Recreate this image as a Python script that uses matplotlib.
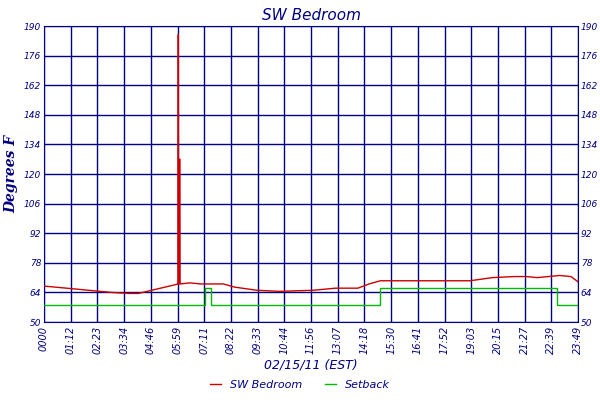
import matplotlib
matplotlib.use("Agg")
import matplotlib.pyplot as plt

tick_labels = ["0000","01:12","02:23","03:34","04:46","05:59","07:11","08:22","09:33","10:44","11:56",
               "13:07","14:18","15:30","16:41","17:52","19:03","20:15","21:27","22:39","23:49"]
temp_h = [0,1,2,3,3.8,4.2,5,5.8,5.98,5.99,6.0,6.03,6.04,6.06,6.07,6.5,7,8,8.5,9.5,10.5,12,13,14,14.5,15,17,19,20,21,21.5,22,23,23.5,23.82]
temp_v = [67,66,65,64,63.5,63.5,65.5,67.5,68,186,68,68,127,127,68,68.5,68,68,66.5,65,64.5,65,66,66,68,69.5,69.5,69.5,71,71.5,71.5,71,72,71.5,69]
set_h = [0,7.18,7.18,7.45,7.45,14.99,14.99,22.88,22.88,23.82]
set_v = [58,58,66,66,58,58,66,66,58,58]

navy = "#000080"
fig = plt.figure(figsize=(6,4), dpi=100)
ax = fig.add_axes([44/600, 1-322/400, 534/600, 296/400])
end = 23 + 49/60
ticks = [end*i/20 for i in range(21)]
ax.plot(temp_h, temp_v, color="#cc0000", lw=1.0, label="SW Bedroom", zorder=3)
ax.plot(set_h, set_v, color="#00bb00", lw=1.0, label="Setback", zorder=3)
ax.set_xlim(0, end); ax.set_ylim(50, 190)
yt = list(range(50, 191, 14))
ax.set_yticks(yt); ax.set_xticks(ticks)
ax.set_xticklabels(tick_labels, rotation=90, fontsize=7, color=navy, style="italic")
ax.tick_params(axis="y", labelsize=6.5, labelcolor=navy, right=True, labelright=True, length=0, pad=2)
ax.tick_params(axis="x", length=0, pad=3)
for l in ax.get_yticklabels(): l.set_style("italic")
ax.grid(True, color=navy, lw=1)
for s in ax.spines.values(): s.set_color(navy)
ax.set_title("SW Bedroom", color=navy, style="italic", fontsize=11, pad=4)
ax.set_ylabel("Degrees F", color=navy, style="italic", fontweight="bold", family="DejaVu Serif", fontsize=10)
ax.set_xlabel("02/15/11 (EST)", color=navy, style="italic", fontsize=9, labelpad=3)
fig.legend(loc="lower center", bbox_to_anchor=(0.5, 0.0), ncol=2, frameon=False,
           labelcolor=navy, handlelength=1, prop={"style":"italic","size":8})
fig.savefig("out.png", dpi=100)
